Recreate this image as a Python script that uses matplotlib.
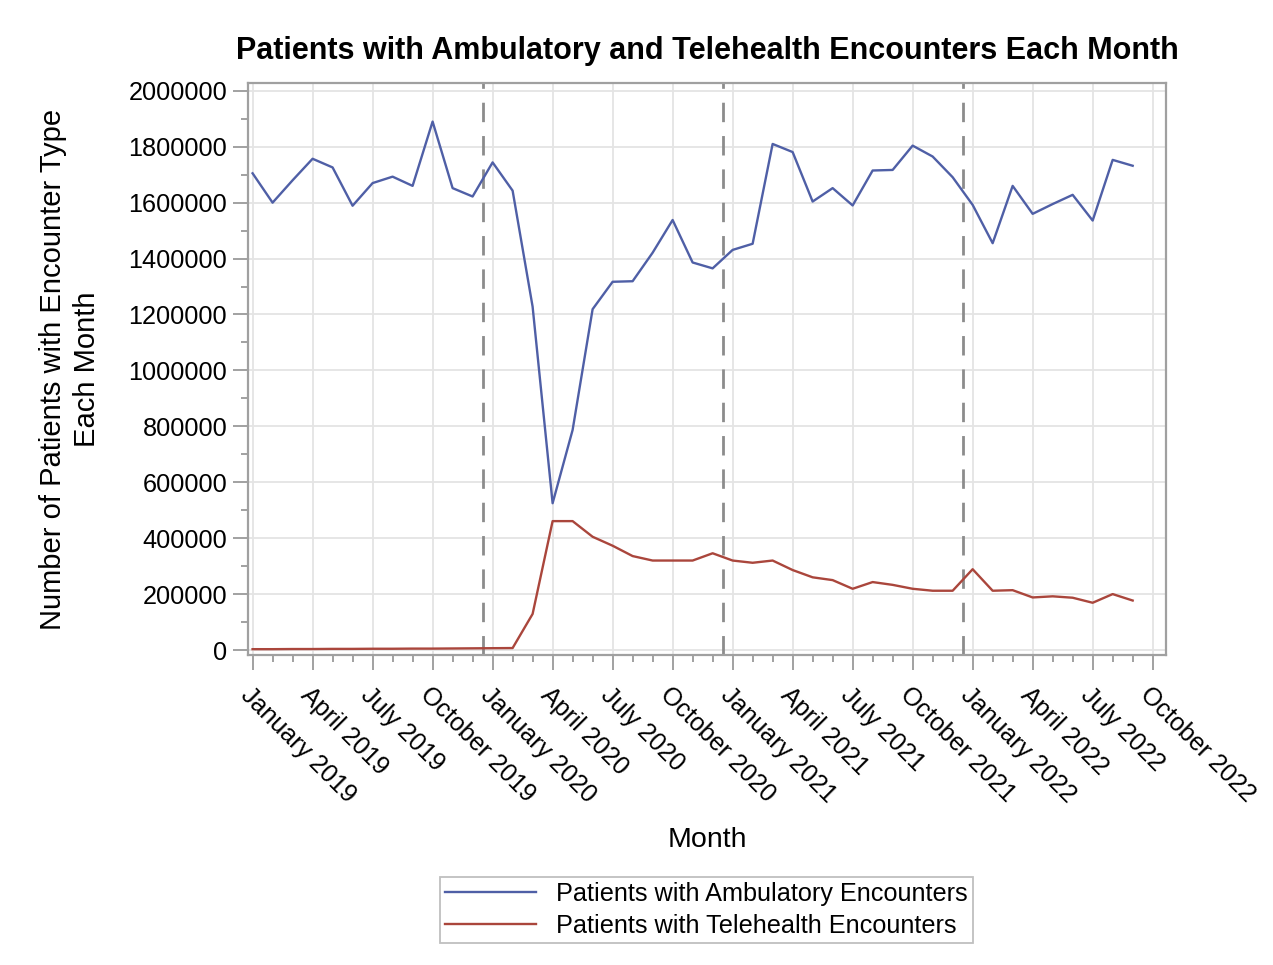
import matplotlib
matplotlib.use("Agg")
import matplotlib.pyplot as plt
import numpy as np
from matplotlib.ticker import MultipleLocator, FuncFormatter

plt.rcParams['font.family'] = ['Liberation Sans', 'DejaVu Sans']

# --- Data ---
# monthly series, January 2019 .. September 2022
ambulatory = [
    1705000, 1600000, 1680000, 1757000, 1726000, 1589000, 1670000, 1693000,
    1660000, 1890000, 1652000, 1622000,                     # 2019
    1744000, 1643000, 1228000, 525000, 787000, 1219000, 1317000, 1319000,
    1421000, 1538000, 1386000, 1365000,                     # 2020
    1431000, 1453000, 1810000, 1781000, 1604000, 1652000, 1590000, 1715000,
    1717000, 1804000, 1765000, 1691000,                     # 2021
    1592000, 1455000, 1660000, 1560000, 1595000, 1628000, 1536000, 1753000,
    1732000,                                                # 2022
]
telehealth = [
    3000, 3000, 3500, 3500, 4000, 4000, 4500, 4500, 5000, 5000, 5500, 6000,
    6500, 7000, 129000, 461000, 461000, 405000, 373000, 336000, 320000,
    320000, 320000, 346000,
    320000, 312000, 320000, 286000, 260000, 250000, 219000, 243000, 233000,
    219000, 212000, 212000,
    289000, 212000, 214000, 188000, 192000, 187000, 169000, 200000, 177000,
]
tick_labels = [
    "January 2019", "April 2019", "July 2019", "October 2019",
    "January 2020", "April 2020", "July 2020", "October 2020",
    "January 2021", "April 2021", "July 2021", "October 2021",
    "January 2022", "April 2022", "July 2022", "October 2022",
]
# reference lines sit midway between December and January
ref_lines = [11.5, 23.5, 35.5]

x = np.arange(len(ambulatory))

# --- Plot ---
fig = plt.figure(figsize=(12.73, 9.65), dpi=100)
ax = fig.add_axes([0.1948, 0.3212, 0.9160 - 0.1948, 0.914 - 0.3212])

ax.plot(x, ambulatory, color='#4F5FA6', lw=1.7, label='Patients with Ambulatory Encounters', zorder=3)
ax.plot(x, telehealth, color='#AA463C', lw=1.7, label='Patients with Telehealth Encounters', zorder=3)

for r in ref_lines:
    ax.axvline(r, color='#8C8C8C', lw=2, ls=(0, (7, 5)), zorder=2)

ax.set_xlim(-0.23, 45.67)
ax.set_ylim(-18000, 2028000)

ax.set_xticks(np.arange(0, 3 * len(tick_labels), 3))
ax.set_xticklabels(tick_labels, rotation=-45, ha='left', va='top',
                   rotation_mode='anchor', fontsize=18)
ax.xaxis.set_minor_locator(MultipleLocator(1))
ax.yaxis.set_major_locator(MultipleLocator(200000))
ax.yaxis.set_minor_locator(MultipleLocator(100000))
ax.yaxis.set_major_formatter(FuncFormatter(lambda v, p: f"{int(v)}"))
ax.tick_params(axis='y', labelsize=18.2)

ax.tick_params(which='major', length=11, width=1.3, color='#9A9A9A', pad=4)
ax.tick_params(which='minor', length=5, width=1.3, color='#9A9A9A')
ax.tick_params(axis='x', which='major', pad=9)

ax.grid(True, which='major', color='#E4E4E4', lw=1.3, zorder=0)
ax.set_axisbelow(True)
for s in ax.spines.values():
    s.set_color('#A0A0A0')
    s.set_linewidth(1.6)

ax.set_title("Patients with Ambulatory and Telehealth Encounters Each Month",
             fontsize=22, fontweight='bold', pad=17)
ax.set_ylabel("Number of Patients with Encounter Type\nEach Month", fontsize=21,
              labelpad=20, linespacing=1.25)
ax.set_xlabel("Month", fontsize=20.5, labelpad=14)

leg = fig.legend(loc='upper center', bbox_to_anchor=(0.555, 0.091), ncol=1,
                 fontsize=18.2, frameon=True, fancybox=False, edgecolor='#B0B0B0',
                 handlelength=3.6, handletextpad=0.8, borderpad=0.2, labelspacing=0.3,
                 borderaxespad=0)
leg.get_frame().set_linewidth(1.3)

fig.savefig("out.png", dpi=100)
